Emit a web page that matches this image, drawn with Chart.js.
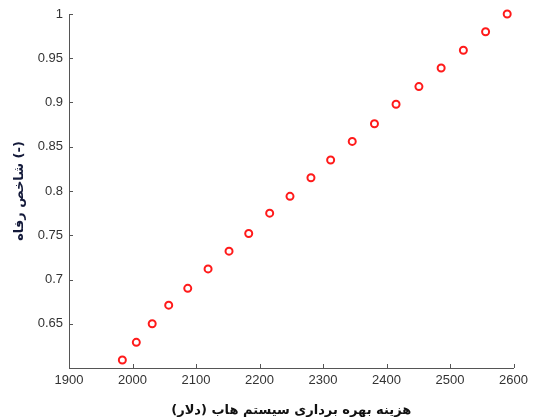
<!DOCTYPE html>
<html>
<head>
<meta charset="utf-8">
<script src="https://cdn.jsdelivr.net/npm/chart.js@4"></script>
<style>
  html, body { margin: 0; padding: 0; background: #fff; }
  #wrap { width: 533px; height: 418px; position: relative; }
</style>
</head>
<body>
<div id="wrap"><canvas id="myChart"></canvas></div>
<script>
// hub operating cost (dollars) vs welfare index
const costValues = [1984, 2006, 2031, 2057, 2087, 2119, 2152, 2183, 2216, 2248,
                    2281, 2312, 2346, 2381, 2415, 2451, 2486, 2521, 2556, 2590];
const welfareValues = [0.609, 0.629, 0.650, 0.671, 0.690, 0.712, 0.732, 0.752, 0.775, 0.794,
                       0.815, 0.835, 0.856, 0.876, 0.898, 0.918, 0.939, 0.959, 0.980, 1.000];
const xTitle = 'هزینه بهره برداری سیستم هاب (دلار)';
const yTitle = 'شاخص رفاه (-)';

const points = costValues.map((c, i) => ({ x: c, y: welfareValues[i] }));

// MATLAB style inward tick marks
const inwardTicks = {
  id: 'inwardTicks',
  afterDatasetsDraw(chart) {
    const c = chart.ctx;
    const xs = chart.scales.x, ys = chart.scales.y;
    c.save();
    c.strokeStyle = '#555';
    c.lineWidth = 1;
    c.beginPath();
    xs.ticks.forEach(t => {
      const px = Math.round(xs.getPixelForValue(t.value)) + 0.5;
      c.moveTo(px, ys.bottom);
      c.lineTo(px, ys.bottom - 4);
    });
    ys.ticks.forEach(t => {
      const py = Math.round(ys.getPixelForValue(t.value)) + 0.5;
      c.moveTo(xs.left, py);
      c.lineTo(xs.left + 4, py);
    });
    c.stroke();
    c.restore();
  }
};

const ctx = document.getElementById('myChart').getContext('2d');
const myChart = new Chart(ctx, {
  type: 'scatter',
  data: {
    datasets: [{
      data: points,
      borderColor: '#ff1a1a',
      backgroundColor: '#ffffff',
      borderWidth: 2,
      pointRadius: 3.5,
      pointHoverRadius: 3.5,
      clip: false
    }]
  },
  options: {
    responsive: true,
    maintainAspectRatio: false,
    animation: false,
    layout: { padding: { top: 14, right: 12, left: 12, bottom: 0 } },
    plugins: { legend: { display: false }, tooltip: { enabled: false } },
    scales: {
      x: {
        type: 'linear',
        min: 1900,
        max: 2600,
        afterFit(scale) { scale.height = 50; },
        grid: { display: false, drawTicks: false },
        border: { display: true, color: '#555', width: 1 },
        ticks: {
          stepSize: 100,
          padding: 5,
          color: '#333',
          font: { family: 'Liberation Sans', size: 13 },
          callback: v => String(v)
        },
        title: {
          display: true,
          text: xTitle,
          color: '#111',
          padding: { top: 2, bottom: 0 },
          font: { family: 'DejaVu Sans', size: 13, weight: 'bold' }
        }
      },
      y: {
        type: 'linear',
        min: 0.6,
        max: 1,
        afterFit(scale) { scale.width = 57; },
        grid: { display: false, drawTicks: false },
        border: { display: true, color: '#555', width: 1 },
        ticks: {
          stepSize: 0.05,
          padding: 6,
          color: '#333',
          font: { family: 'Liberation Sans', size: 13 },
          callback: v => (Math.abs(v - 0.6) < 1e-6 ? '' : String(parseFloat(v.toFixed(2))))
        },
        title: {
          display: true,
          text: yTitle,
          color: '#141a3a',
          padding: { top: 0, bottom: 4 },
          font: { family: 'DejaVu Sans', size: 13, weight: 'bold' }
        }
      }
    }
  },
  plugins: [inwardTicks]
});
</script>
</body>
</html>
